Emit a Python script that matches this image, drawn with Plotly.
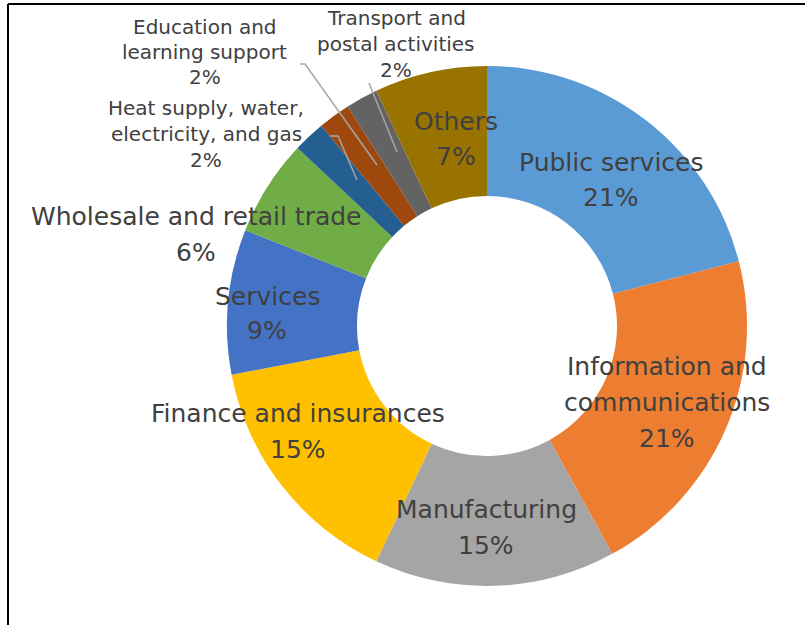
import plotly.graph_objects as go

# Share of companies by industry (percent)
categories = [
    "Public services",
    "Information and<br>communications",
    "Manufacturing",
    "Finance and insurances",
    "Services",
    "Wholesale and retail trade",
    "Heat supply, water,<br>electricity, and gas",
    "Education and<br>learning support",
    "Transport and<br>postal activities",
    "Others",
]
shares = [21, 21, 15, 15, 9, 6, 2, 2, 2, 7]
colors = ["#5B9BD5", "#ED7D31", "#A5A5A5", "#FFC000", "#4472C4",
          "#70AD47", "#255E91", "#9E480E", "#636363", "#997300"]

W, H = 805, 625
CX, CY, R = 487, 326, 260          # donut centre and outer radius, px
TEXT = "#404040"
FONT = "DejaVu Sans"


def px(x):
    return x / W


def py(y):
    return 1 - y / H


fig = go.Figure(go.Pie(
    labels=[c.replace("<br>", " ") for c in categories],
    values=shares,
    hole=0.5,
    sort=False,
    direction="clockwise",
    rotation=0,
    marker=dict(colors=colors, line=dict(width=0)),
    textinfo="none",
    hoverinfo="label+percent",
    showlegend=False,
    domain=dict(x=[px(CX - R), px(CX + R)], y=[py(CY + R), py(CY - R)]),
))

# label anchor (centre of first line), line pitch and font size per slice
label_pos = [
    (611, 163, 35, 25),
    (667, 366, 36, 25),
    (486, 509, 36, 25),
    (298, 413, 36, 25),
    (267, 296, 34, 25),
    (196, 216, 36, 25),
    (206, 108, 26, 20),
    (205, 27, 25, 20),
    (396, 18, 26, 20),
    (456, 121, 35, 25),
]

annotations = []
for name, val, (lx, ly, pitch, size) in zip(categories, shares, label_pos):
    lines = name.split("<br>") + [f"{val}%"]
    for i, line in enumerate(lines):
        annotations.append(dict(
            x=px(lx), y=py(ly + i * pitch), xref="paper", yref="paper",
            text=line, showarrow=False, xanchor="center", yanchor="middle",
            font=dict(family=FONT, size=size, color=TEXT),
        ))

# leader lines for the small outside labels
leaders = [
    [(300, 64), (305, 64), (377, 165)],
    [(330, 136), (338, 136), (357, 180)],
    [(369, 83), (397, 152)],
]
shapes = []
for pts in leaders:
    path = "M " + " L ".join(f"{px(x):.5f},{py(y):.5f}" for x, y in pts)
    shapes.append(dict(type="path", path=path, xref="paper", yref="paper",
                       line=dict(color="#A6A6A6", width=1.5)))

# frame: top and left edges
shapes.append(dict(type="line", xref="paper", yref="paper",
                   x0=px(8), x1=1, y0=py(4), y1=py(4),
                   line=dict(color="#000000", width=2)))
shapes.append(dict(type="line", xref="paper", yref="paper",
                   x0=px(8), x1=px(8), y0=py(4), y1=0,
                   line=dict(color="#000000", width=2)))

fig.update_layout(
    width=W, height=H,
    margin=dict(l=0, r=0, t=0, b=0),
    paper_bgcolor="white",
    plot_bgcolor="white",
    annotations=annotations,
    shapes=shapes,
)

fig.write_html("out.html")
